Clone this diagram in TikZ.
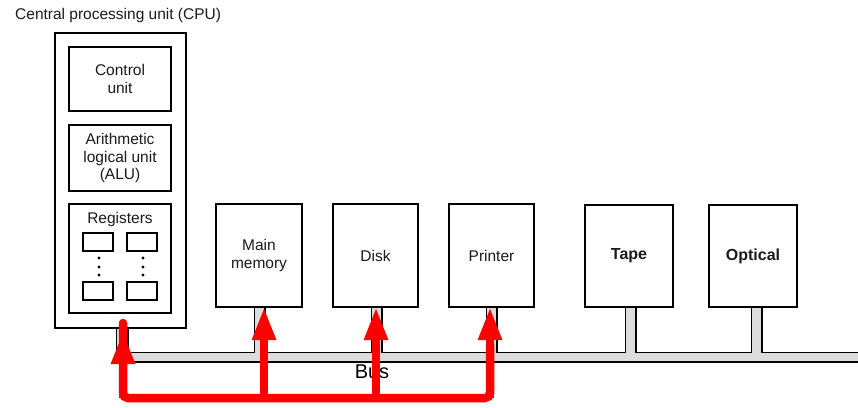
\documentclass[tikz,border=0pt]{standalone}
\usepackage{fontspec}
\setmainfont{Liberation Sans}
\usetikzlibrary{arrows.meta}
\definecolor{busgray}{HTML}{DCDCDC}
\definecolor{txt}{HTML}{1A1A1A}
\begin{document}
\begin{tikzpicture}[x=1pt,y=-1pt,
  box/.style={draw=black,line width=2pt,fill=white,inner sep=0pt,text=txt,
    font=\fontsize{15.5pt}{17.5pt}\selectfont,align=center},
  regbox/.style={draw=black,line width=1.6pt,fill=white,inner sep=0pt,
    minimum width=30pt,minimum height=18pt},
  lbl/.style={inner sep=0pt,text=txt,font=\fontsize{15.5pt}{17pt}\selectfont},
  boldlbl/.style={box,font=\fontsize{16pt}{18pt}\selectfont\bfseries},
  redline/.style={draw=red,line width=8.5pt,line cap=round},
  redarrow/.style={redline,line cap=butt,-{Triangle[length=33pt,width=22pt]}},
  busedge/.style={draw=black,line width=3pt},
  busfill/.style={fill=busgray}
]
\useasboundingbox (0,0) rectangle (858,407);

% ---- bus (drawn first) ----
\foreach \a/\b/\c/\d in {117/353/860/361, 117/328/127/357, 255/300/264/357,
   372/300/381/357, 487/300/496/357, 626/300/635/357, 752/300/761/357}{
  \draw[busedge] (\a,\b) rectangle (\c,\d);
}
\foreach \a/\b/\c/\d in {117/353/860/361, 117/328/127/357, 255/300/264/357,
   372/300/381/357, 487/300/496/357, 626/300/635/357, 752/300/761/357}{
  \fill[busfill] (\a,\b) rectangle (\c,\d);
}

% ---- CPU ----
\node[lbl,anchor=west] (title) at (15,15) {Central processing unit (CPU)};
\node[box,minimum width=131pt,minimum height=295pt] (cpu) at (120.5,180.5) {};
\node[box,minimum width=102pt,minimum height=64pt] (ctrl) at (120,79) {Control\\unit};
\node[box,minimum width=102pt,minimum height=66pt] (alu) at (120,158) {Arithmetic\\logical unit\\(ALU)};
\node[box,minimum width=102pt,minimum height=109pt] (regs) at (120,258.5) {};
\node[lbl] (regtitle) at (120,219) {Registers};
\node[regbox] (r1) at (98,242) {};
\node[regbox] (r2) at (142,242) {};
\node[regbox] (r3) at (98,291) {};
\node[regbox] (r4) at (142,291) {};
\foreach \x in {99,143}{
  \foreach \y in {258,267,275}{
    \fill[black] (\x,\y) circle (1.6pt);
  }
}

% ---- devices ----
\node[box,minimum width=86pt,minimum height=103pt] (mem) at (259,255.5) {Main\\memory};
\node[box,minimum width=85pt,minimum height=103pt] (disk) at (375.5,255.5) {Disk};
\node[box,minimum width=85pt,minimum height=103pt] (printer) at (491.5,255.5) {Printer};
\node[boldlbl,minimum width=88pt,minimum height=102pt] (tape) at (629,256) {Tape};
\node[boldlbl,minimum width=88pt,minimum height=102pt] (optical) at (753,256) {Optical};

\node[inner sep=0pt,font=\fontsize{20pt}{22pt}\selectfont] (bus) at (372,372) {Bus};

% ---- red arrows ----
\coordinate (cpuend) at (123,323);
\coordinate (cputip) at (123,331);
\coordinate (cl) at (123,398);
\coordinate (cr) at (490,398);
\coordinate (prtip) at (490,307);
\coordinate (memfoot) at (264,398);
\coordinate (memtip) at (264,307);
\coordinate (diskfoot) at (376,398);
\coordinate (disktip) at (376,307);

\draw[redline,rounded corners=5pt] (cpuend) -- (cl) -- (cr) -- (490,345);
\draw[redarrow] (cr) -- (prtip);
\draw[redarrow] (cl) -- (cputip);
\draw[redarrow] (memfoot) -- (memtip);
\draw[redarrow] (diskfoot) -- (disktip);
\end{tikzpicture}
\end{document}
